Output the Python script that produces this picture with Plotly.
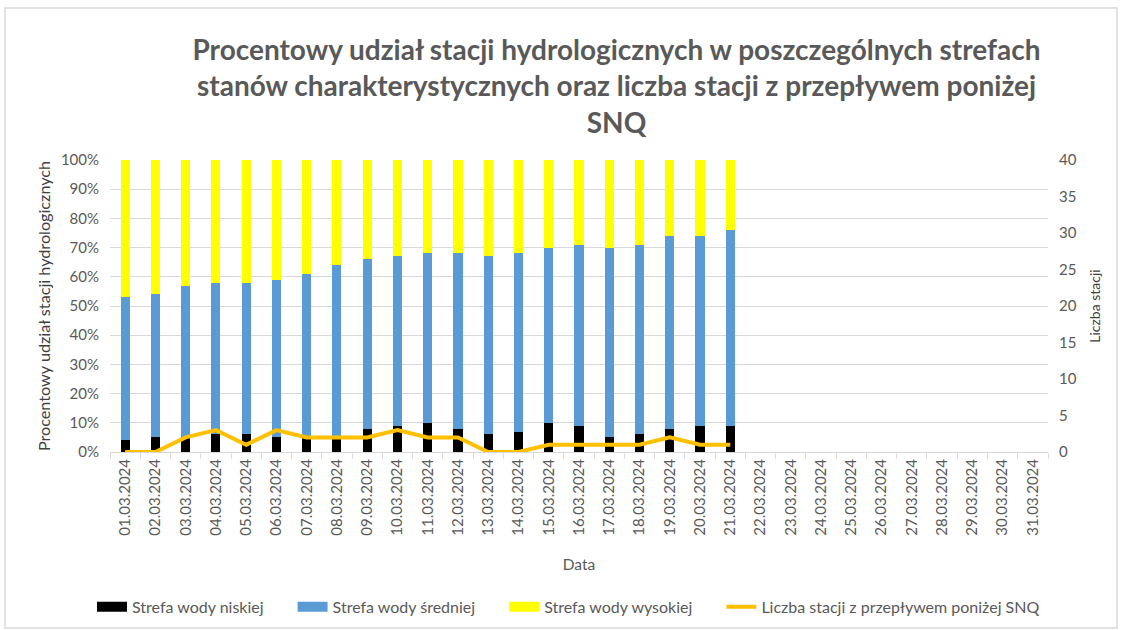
import plotly.graph_objects as go

dates = [f"{d:02d}.03.2024" for d in range(1, 32)]
# percent values for first 21 days
low = [4, 5, 5, 6, 6, 5, 5, 5, 8, 9, 10, 8, 6, 7, 10, 9, 5, 6, 8, 9, 9]
mid = [49, 49, 52, 52, 52, 54, 56, 59, 58, 58, 58, 60, 61, 61, 60, 62, 65, 65, 66, 65, 67]
high = [47, 46, 43, 42, 42, 41, 39, 36, 34, 33, 32, 32, 33, 32, 30, 29, 30, 29, 26, 26, 24]
snq = [0, 0, 2, 3, 1, 3, 2, 2, 2, 3, 2, 2, 0, 0, 1, 1, 1, 1, 2, 1, 1]

names = ["Strefa wody niskiej", "Strefa wody średniej", "Strefa wody wysokiej",
         "Liczba stacji z przepływem poniżej SNQ"]
colors = ["#000000", "#5B9BD5", "#FFFF00", "#FFC000"]

n = len(low)
font_fam = "Lato, 'Open Sans', sans-serif"
gray = "#595959"

fig = go.Figure()
for vals, name, col in zip([low, mid, high], names[:3], colors[:3]):
    fig.add_trace(go.Bar(x=dates[:n], y=vals, name=name, showlegend=False, legendgroup=name,
                         marker=dict(color=col, line=dict(width=0)), width=0.3))
fig.add_trace(go.Scatter(x=dates[:n], y=snq, name=names[3], showlegend=False, legendgroup=names[3],
                         mode="lines", line=dict(color=colors[3], width=4), yaxis="y2"))
# legend entries (Excel-like wide rectangles / line)
for i, (name, col) in enumerate(zip(names, colors)):
    fig.add_trace(go.Scatter(x=[None], y=[None], name=name + "\u2003\u2003", legendgroup=name,
                             mode="lines", line=dict(color=col, width=10 if i < 3 else 4),
                             hoverinfo="skip"))

fig.update_layout(
    width=1123, height=630,
    barmode="stack",
    paper_bgcolor="white", plot_bgcolor="white",
    font=dict(family=font_fam, color=gray, size=15),
    margin=dict(l=110, r=75, t=160, b=178, autoexpand=False),
    title=dict(
        text="<b>Procentowy udział stacji hydrologicznych w poszczególnych strefach<br>"
             "stanów charakterystycznych oraz liczba stacji z przepływem poniżej<br>SNQ</b>",
        x=0.549, xanchor="center", y=0.905, yanchor="top",
        font=dict(family=font_fam, size=28, color=gray)),
    xaxis=dict(
        categoryorder="array", categoryarray=dates, tickvals=dates,
        range=[-0.5, 30.5],
        tickangle=-90, tickfont=dict(size=15, color=gray),
        ticks="outside", tickson="boundaries", ticklen=6, tickcolor="#D9D9D9",
        showline=True, linecolor="#D9D9D9", showgrid=False,
        title=dict(text="Data", font=dict(size=15.5, color=gray), standoff=24),
        automargin=False,
    ),
    yaxis=dict(
        range=[0, 100], dtick=10, ticksuffix="%",
        showgrid=True, gridcolor="#D9D9D9", gridwidth=1, zeroline=False,
        tickfont=dict(size=15, color=gray), ticklabelstandoff=10,
        title=dict(text="Procentowy udział stacji hydrologicznych",
                   font=dict(size=16.2, color="#404040"), standoff=6),
        automargin=False,
    ),
    yaxis2=dict(
        range=[0, 40], dtick=5, overlaying="y", side="right",
        showgrid=False, zeroline=False,
        tickfont=dict(size=15, color=gray), ticklabelstandoff=10,
        title=dict(text="Liczba stacji", font=dict(size=14, color="#404040"), standoff=14),
        automargin=False,
    ),
    legend=dict(orientation="h", x=(92 - 110) / 938, xanchor="left", y=-0.53, yanchor="middle",
                font=dict(size=16, color=gray), traceorder="normal", itemwidth=30),
    showlegend=True,
    shapes=[dict(type="rect", xref="paper", yref="paper",
                 x0=(5 - 110) / 938, x1=(1117 - 110) / 938,
                 y0=(452 - 628) / 292, y1=(452 - 8) / 292,
                 line=dict(color="#D9D9D9", width=1.5), fillcolor="rgba(0,0,0,0)", layer="below")],
)

fig.write_html("out.html", config={"displayModeBar": False},
               post_script="document.body.style.margin='0';document.body.style.overflow='hidden';")
